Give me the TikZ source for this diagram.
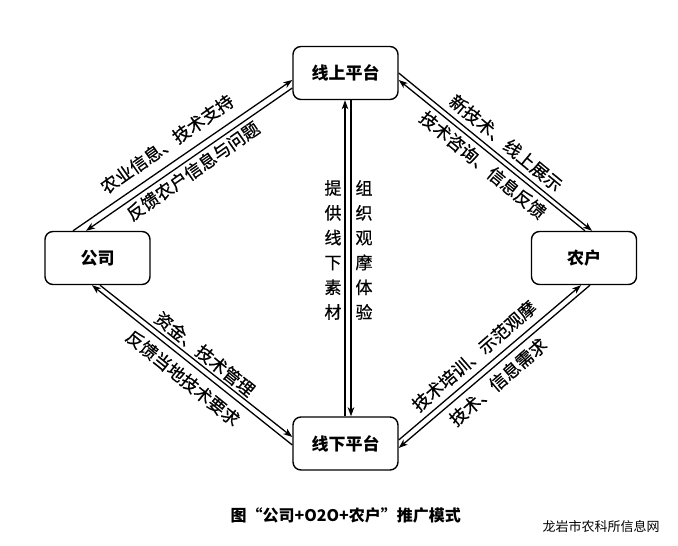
\documentclass[tikz,border=0pt]{standalone}
\usepackage{fontspec}
\setmainfont{Noto Sans CJK SC}
\newfontfamily\medfont[FakeBold=0.6]{Noto Sans CJK SC}
\usetikzlibrary{arrows.meta,calc}
\begin{document}
\begin{tikzpicture}[x=1pt,y=-1pt,
  box/.style={draw, line width=1.4pt, rounded corners=8pt, minimum width=105pt,
    minimum height=53pt, inner sep=0pt, font=\fontsize{17}{17}\selectfont\bfseries},
  conn/.style={line width=1.3pt, -{Stealth[length=9pt,width=6.5pt,inset=2.5pt]}},
  lab/.style={inner sep=0pt, font=\medfont\fontsize{17.5}{17.5}\selectfont},
  vlab/.style={inner sep=0pt, align=center, font=\medfont\fontsize{17}{24.8}\selectfont}]
\useasboundingbox[fill=white] (0,0) rectangle (678,546);
% boxes
\node[box] (xs) at (345.5,73) {线上平台};
\node[box] (gs) at (97.5,258) {公司};
\node[box] (nh) at (584,258) {农户};
\node[box] (xx) at (345.5,443.5) {线下平台};
% top-left
\draw[conn] ($(gs.north)+(-24.5,0)$) -- ($(xs.west)+(0,7)$);
\draw[conn] ($(xs.west)+(0,15)$) -- ($(gs.north)+(-11.5,0)$);
% top-right
\draw[conn] ($(xs.east)+(0,0)$) -- ($(nh.north)+(8,0)$);
\draw[conn] ($(nh.north)+(1,0)$) -- ($(xs.east)+(0,7)$);
% bottom-left
\draw[conn] ($(gs.south)+(2.5,0)$) -- ($(xx.west)+(0,-6.5)$);
\draw[conn] ($(xx.west)+(0,1.5)$) -- ($(gs.south)+(-5.5,0)$);
% bottom-right
\draw[conn] ($(xx.east)+(0,-3.5)$) -- ($(nh.south)+(-3,0)$);
\draw[conn] ($(nh.south)+(6,0)$) -- ($(xx.east)+(0,4.5)$);
% vertical
\draw[conn] ($(xx.north)+(-0.5,0)$) -- ($(xs.south)+(-0.5,0)$);
\draw[conn] ($(xs.south)+(5.5,0)$) -- ($(xx.north)+(5.5,0)$);
% labels
\node[lab, rotate=35] (t1) at (167,144) {农业信息、技术支持};
\node[lab, rotate=35] (t2) at (193,171) {反馈农户信息与问题};
\node[lab, rotate=-39.5] (t3) at (506,143) {新技术、线上展示};
\node[lab, rotate=-39.5] (t4) at (483,165) {技术咨询、信息反馈};
\node[lab, rotate=-39] (t5) at (205,354) {资金、技术管理};
\node[lab, rotate=-39] (t6) at (183,378) {反馈当地技术要求};
\node[lab, rotate=41] (t7) at (474,356) {技术培训、示范观摩};
\node[lab, rotate=41] (t8) at (498,382) {技术、信息需求};
\node[vlab] (v1) at (333,250) {提\\供\\线\\下\\素\\材};
\node[vlab] (v2) at (364,250) {组\\织\\观\\摩\\体\\验};
% caption
\node[inner sep=0pt, font=\fontsize{16}{16}\selectfont\bfseries] (cap) at (345.8,515) {图“公司+O2O+农户”推广模式};
\node[inner sep=0pt, font=\fontsize{13}{13}\selectfont] (wm) at (601,527) {龙岩市农科所信息网};
\end{tikzpicture}
\end{document}
